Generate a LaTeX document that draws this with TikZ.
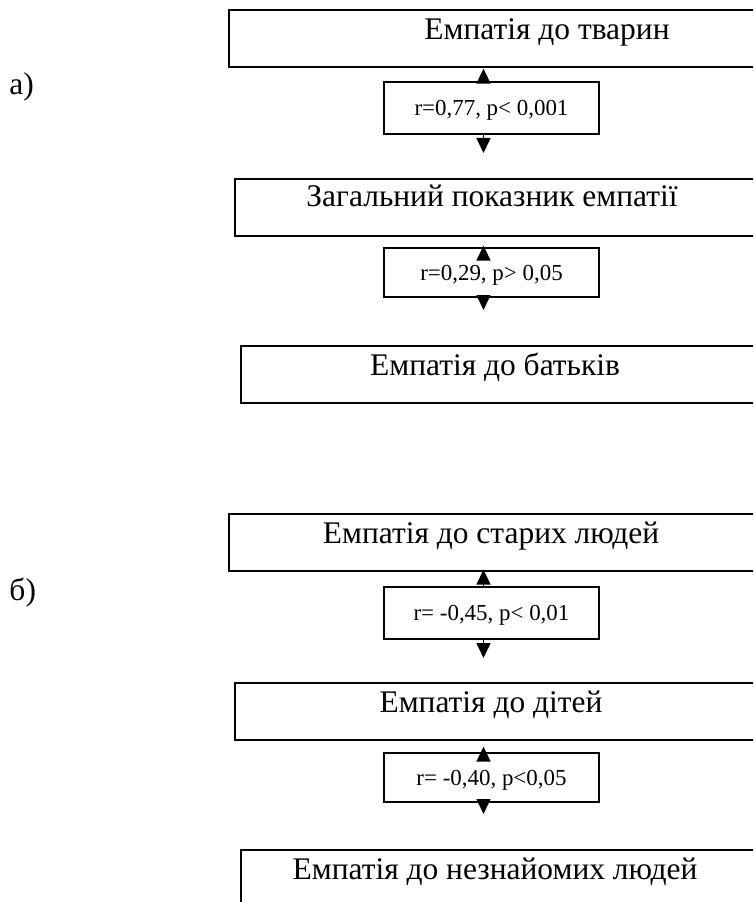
\documentclass[tikz,border=0pt]{standalone}
\usepackage{fontspec}
\setmainfont{Liberation Serif}
\usetikzlibrary{arrows.meta}

\tikzset{every picture/.style={line width=0.75pt}}

\begin{document}
\begin{tikzpicture}[x=0.75pt,y=0.75pt,yscale=-1,xscale=1,
	frame/.style={draw, line width=1.25pt, anchor=north west, minimum width=525pt, minimum height=42.75pt, inner sep=0pt},
	boxtext/.style={anchor=base, inner sep=0.75pt, font=\fontsize{23.6}{28}\selectfont},
	rbox/.style={draw, line width=1.25pt, minimum width=161.25pt, minimum height=39pt, inner sep=0pt, text height=11.25pt, text depth=0pt, font=\fontsize{17.2}{20}\selectfont},
	corr/.style={-{Triangle[length=11.25pt,width=10.5pt]}, line width=1.25pt}]
		\useasboundingbox (0,0) rectangle (753,902);
		\fill[white] (0,0) rectangle (753,902);
		\clip (0,0) rectangle (753,902);

		%x of the arrows
		\coordinate (ax) at (483.5,0);

		% Text Node
		\node [boxtext, anchor=base west] (lbla) at (8,95) {а)};
		% Text Node
		\node [boxtext, anchor=base west] (lblb) at (8,600) {б)};

		%Shape: Rectangle (a)
		\node [frame] (tvar) at (228,9) {};
		\node [boxtext] (tvar-t) at (547,40) {Емпатія до тварин};

		\node [rbox] (r1) at (491.5,108) {r=0,77, p< 0,001};

		\node [frame] (zah) at (234,178) {};
		\node [boxtext] (zah-t) at (492,207) {Загальний показник емпатії};

		\node [rbox, minimum height=36.75pt] (r2) at (491.5,272.5) {r=0,29, p> 0,05};

		\node [frame] (bat) at (240,345) {};
		\node [boxtext] (bat-t) at (495,375) {Емпатія до батьків};

		%Shape: Rectangle (b)
		\node [frame] (star) at (228,513) {};
		\node [boxtext] (star-t) at (491,543) {Емпатія до старих людей};

		\node [rbox] (r3) at (491.5,613) {r= -0,45, p< 0,01};

		\node [frame] (dit) at (234,682) {};
		\node [boxtext] (dit-t) at (491,712) {Емпатія до дітей};

		\node [rbox, minimum height=36.75pt] (r4) at (491.5,777.5) {r= -0,40, p<0,05};

		\node [frame] (nez) at (240,849) {};
		\node [boxtext] (nez-t) at (495,879) {Емпатія до незнайомих людей};

		%free ends of the down arrows
		\coordinate (d1) at (483.5,153);
		\coordinate (d2) at (483.5,310);
		\coordinate (d3) at (483.5,658);
		\coordinate (d4) at (483.5,814);

		%Arrows
		\draw [corr] (r1.north -| ax) -- ([yshift=0.75pt]tvar.south -| ax);
		\draw [corr] (r1.south -| ax) -- (d1);
		\draw [corr] (r2.north -| ax) -- ([yshift=6.75pt]zah.south -| ax);
		\draw [corr] (r2.south -| ax) -- (d2);
		\draw [corr] (r3.north -| ax) -- ([yshift=-1.5pt]star.south -| ax);
		\draw [corr] (r3.south -| ax) -- (d3);
		\draw [corr] (r4.north -| ax) -- ([yshift=4.5pt]dit.south -| ax);
		\draw [corr] (r4.south -| ax) -- (d4);
	\end{tikzpicture}
\end{document}
